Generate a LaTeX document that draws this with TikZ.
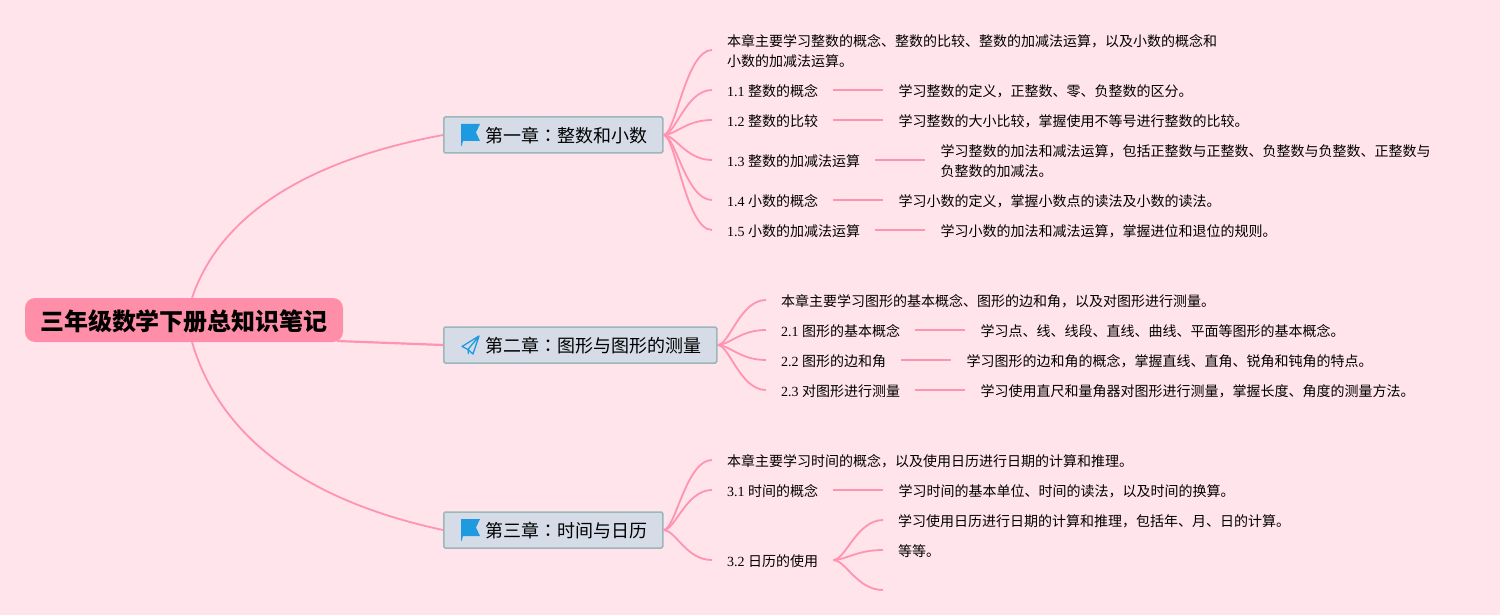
\documentclass[tikz,border=0pt]{standalone}
\usepackage{fontspec}
\setmainfont{Noto Sans CJK SC}
\newfontfamily\numfont{Liberation Serif}
\newfontfamily\colonfont{Noto Sans CJK TC}
\usetikzlibrary{positioning}
\definecolor{mapbg}{RGB}{255,228,236}
\definecolor{rootpink}{RGB}{255,143,168}
\definecolor{linkpink}{RGB}{255,148,176}
\definecolor{chapfill}{RGB}{213,220,232}
\definecolor{chapline}{RGB}{155,184,184}
\definecolor{iconblue}{RGB}{30,155,224}
\newcommand{\nr}[1]{{\numfont #1\ }}
\newcommand{\chaptext}[2]{\hspace*{27pt}#1{\colonfont ：}#2}

\begin{document}
\begin{tikzpicture}[
  x=1pt,y=-1pt,
  node distance=50pt,
  rootbox/.style={draw=none,fill=rootpink,rounded corners=10pt,minimum width=318pt,minimum height=44pt,inner sep=0pt,text height=22pt,text depth=2pt,font=\fontsize{24}{28}\selectfont\bfseries},
  chapbox/.style={draw=chapline,line width=1.5pt,fill=chapfill,rounded corners=1.5pt,anchor=west,minimum height=36pt,inner xsep=15pt,inner ysep=0pt,text height=17pt,text depth=2.4pt,font=\fontsize{18}{22}\selectfont},
  leaf/.style={anchor=west,inner xsep=15pt,inner ysep=0pt,align=left,font=\fontsize{14}{20}\selectfont,text height=14pt,text depth=1pt},
  wide/.style={anchor=west,inner xsep=15pt,inner ysep=0pt,align=left,font=\fontsize{14}{20}\selectfont,text height=35pt,text depth=2pt},
  branch/.style={draw=linkpink,line width=1.8pt,to path={.. controls +(12,0) and +(-26,0) .. (\tikztotarget)}},
  trunk/.style={draw=linkpink,line width=1.8pt}
]
\fill[mapbg] (0,0) rectangle (1500,615);
\useasboundingbox (0,0) rectangle (1500,615);

\node[rootbox] (root) at (184,320) {三年级数学下册总知识笔记};
\coordinate (rootup) at (192,298);
\coordinate (rootdown) at (192,342);
\coordinate (rootright) at (337,341);

\node[chapbox] (chap1) at (443,135) {\chaptext{第一章}{整数和小数}};
\node[chapbox] (chap2) at (443,345) {\chaptext{第二章}{图形与图形的测量}};
\node[chapbox] (chap3) at (443,530) {\chaptext{第三章}{时间与日历}};

% chapter one
\node[wide] (intro1) at (712,50) {本章主要学习整数的概念、整数的比较、整数的加减法运算，以及小数的概念和\\小数的加减法运算。};
\node[leaf] (sec11) at (712,90) {\nr{1.1}整数的概念};
\node[leaf] (sec12) at (712,120) {\nr{1.2}整数的比较};
\node[leaf] (sec13) at (712,160) {\nr{1.3}整数的加减法运算};
\node[leaf] (sec14) at (712,200) {\nr{1.4}小数的概念};
\node[leaf] (sec15) at (712,230) {\nr{1.5}小数的加减法运算};
\node[leaf,right=of sec11] (note11) {学习整数的定义，正整数、零、负整数的区分。};
\node[leaf,right=of sec12] (note12) {学习整数的大小比较，掌握使用不等号进行整数的比较。};
\node[wide,right=of sec13] (note13) {学习整数的加法和减法运算，包括正整数与正整数、负整数与负整数、正整数与\\负整数的加减法。};
\node[leaf,right=of sec14] (note14) {学习小数的定义，掌握小数点的读法及小数的读法。};
\node[leaf,right=of sec15] (note15) {学习小数的加法和减法运算，掌握进位和退位的规则。};

% chapter two
\node[leaf] (intro2) at (766,300) {本章主要学习图形的基本概念、图形的边和角，以及对图形进行测量。};
\node[leaf] (sec21) at (766,330) {\nr{2.1}图形的基本概念};
\node[leaf] (sec22) at (766,360) {\nr{2.2}图形的边和角};
\node[leaf] (sec23) at (766,390) {\nr{2.3}对图形进行测量};
\node[leaf,right=of sec21] (note21) {学习点、线、线段、直线、曲线、平面等图形的基本概念。};
\node[leaf,right=of sec22] (note22) {学习图形的边和角的概念，掌握直线、直角、锐角和钝角的特点。};
\node[leaf,right=of sec23] (note23) {学习使用直尺和量角器对图形进行测量，掌握长度、角度的测量方法。};

% chapter three
\node[leaf] (intro3) at (712,460) {本章主要学习时间的概念，以及使用日历进行日期的计算和推理。};
\node[leaf] (sec31) at (712,490) {\nr{3.1}时间的概念};
\node[leaf] (sec32) at (712,560) {\nr{3.2}日历的使用};
\node[leaf,right=of sec31] (note31) {学习时间的基本单位、时间的读法，以及时间的换算。};
\node[leaf] (note32) at (883,520) {学习使用日历进行日期的计算和推理，包括年、月、日的计算。};
\node[leaf] (note33) at (883,550) {等等。};
\coordinate (note34) at (883,590);

\draw[trunk] (rootup) .. controls (225,200) and (335,155) .. (chap1.west);
\draw[trunk,line width=2.2pt] (rootright) -- (chap2.west);
\draw[trunk] (rootdown) .. controls (225,455) and (335,507) .. (chap3.west);

\foreach \leafname in {intro1,sec11,sec12,sec13,sec14,sec15}
  \draw[branch] (chap1.east) to (\leafname.west);
\foreach \leafname in {intro2,sec21,sec22,sec23}
  \draw[branch] (chap2.east) to (\leafname.west);
\foreach \leafname in {intro3,sec31,sec32}
  \draw[branch] (chap3.east) to (\leafname.west);
\draw[branch] (sec11) -- (note11);
\draw[branch] (sec12) -- (note12);
\draw[branch] (sec13) -- (note13);
\draw[branch] (sec14) -- (note14);
\draw[branch] (sec15) -- (note15);
\draw[branch] (sec21) -- (note21);
\draw[branch] (sec22) -- (note22);
\draw[branch] (sec23) -- (note23);
\draw[branch] (sec31) -- (note31);
\draw[branch] (sec32.east) to (note32.west);
\draw[branch] (sec32.east) to (note33.west);
\draw[branch] (sec32.east) to (note34);

% icons
\foreach \chapname in {chap1,chap3}
  \fill[iconblue,shift={(\chapname.west)}] (18,-11) -- (37,-11) -- (33,-2.5) -- (37,6) -- (20,6) -- (18.6,11) -- (18,11) -- cycle;
\draw[iconblue,line width=1.3pt,line join=round,shift={(chap2.west)}] (36,-9) -- (19,1.5) -- (25,4.5) -- (30,9) -- cycle (36,-9) -- (25,4.5) -- (25.5,9);
\end{tikzpicture}
\end{document}
